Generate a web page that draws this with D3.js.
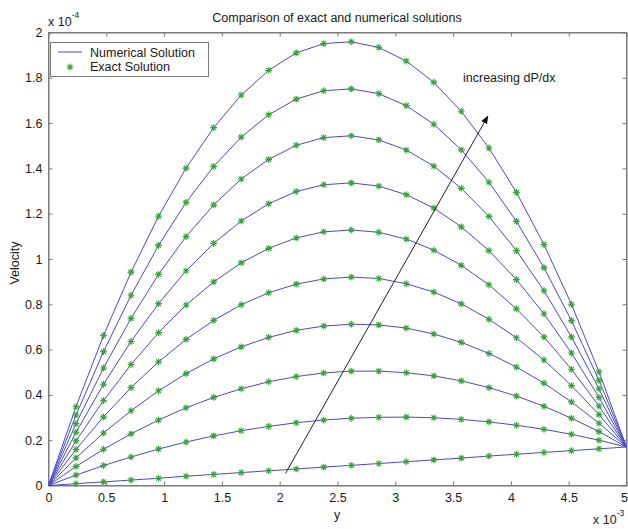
<!DOCTYPE html>
<html>
<head>
<meta charset="utf-8">
<script src="https://cdn.jsdelivr.net/npm/d3@7"></script>
<style>
  html, body { margin: 0; padding: 0; background: #fff; }
  svg { display: block; }
  text { font-family: Arial, "Liberation Sans", sans-serif; fill: #1a1a1a; }
</style>
</head>
<body>
<div id="chart"></div>
<script>
// Grid positions y (units of 1e-3)
const yPositions = [0, 0.238, 0.476, 0.714, 0.952, 1.190, 1.429, 1.667, 1.905, 2.143, 2.381,
                    2.619, 2.857, 3.095, 3.333, 3.571, 3.810, 4.048, 4.286, 4.524, 4.762, 5.0];

// Velocity profiles (units of 1e-4), one per pressure gradient
const profile0 = [0, 0.008, 0.016, 0.024, 0.032, 0.041, 0.049, 0.057, 0.065, 0.073, 0.081, 0.089, 0.097, 0.105, 0.113, 0.121, 0.130, 0.138, 0.146, 0.154, 0.162, 0.170];
const profile1 = [0, 0.046, 0.088, 0.126, 0.161, 0.192, 0.219, 0.242, 0.261, 0.277, 0.289, 0.297, 0.301, 0.302, 0.299, 0.292, 0.281, 0.266, 0.248, 0.226, 0.200, 0.170];
const profile2 = [0, 0.084, 0.160, 0.228, 0.289, 0.343, 0.389, 0.427, 0.458, 0.481, 0.497, 0.505, 0.505, 0.498, 0.484, 0.462, 0.432, 0.395, 0.350, 0.297, 0.238, 0.170];
const profile3 = [0, 0.122, 0.232, 0.330, 0.418, 0.494, 0.559, 0.612, 0.654, 0.685, 0.704, 0.712, 0.709, 0.695, 0.669, 0.632, 0.583, 0.523, 0.452, 0.369, 0.275, 0.170];
const profile4 = [0, 0.159, 0.303, 0.432, 0.546, 0.645, 0.729, 0.798, 0.851, 0.889, 0.912, 0.920, 0.914, 0.891, 0.854, 0.802, 0.734, 0.652, 0.554, 0.441, 0.313, 0.170];
const profile5 = [0, 0.197, 0.375, 0.534, 0.675, 0.797, 0.899, 0.983, 1.047, 1.093, 1.120, 1.128, 1.118, 1.088, 1.039, 0.972, 0.886, 0.780, 0.656, 0.513, 0.351, 0.170];
const profile6 = [0, 0.235, 0.447, 0.636, 0.803, 0.948, 1.069, 1.168, 1.244, 1.298, 1.328, 1.336, 1.322, 1.284, 1.225, 1.142, 1.037, 0.909, 0.758, 0.585, 0.389, 0.170];
const profile7 = [0, 0.273, 0.519, 0.738, 0.932, 1.099, 1.239, 1.353, 1.440, 1.502, 1.536, 1.544, 1.526, 1.481, 1.410, 1.312, 1.188, 1.037, 0.860, 0.656, 0.427, 0.170];
const profile8 = [0, 0.311, 0.591, 0.840, 1.060, 1.250, 1.409, 1.538, 1.637, 1.706, 1.743, 1.751, 1.730, 1.677, 1.595, 1.482, 1.339, 1.166, 0.962, 0.728, 0.464, 0.170];
const profile9 = [0, 0.348, 0.662, 0.942, 1.189, 1.401, 1.580, 1.724, 1.833, 1.910, 1.951, 1.959, 1.934, 1.874, 1.780, 1.652, 1.490, 1.294, 1.064, 0.800, 0.502, 0.170];
const profiles = [profile0, profile1, profile2, profile3, profile4, profile5, profile6, profile7, profile8, profile9];

const xTicks = [0, 0.5, 1, 1.5, 2, 2.5, 3, 3.5, 4, 4.5, 5];
const yTicks = [0, 0.2, 0.4, 0.6, 0.8, 1, 1.2, 1.4, 1.6, 1.8, 2];
const legendLabels = ["Numerical Solution", "Exact Solution"];
const arrowStart = [2.05, 0.053];
const arrowEnd = [3.80, 1.63];

(function () {
const W = 628, H = 529;
const mLeft = 48.5, mRight = 626.5, mTop = 32.5, mBottom = 485.5;
const lineColor = "#4a4acc";
const markerColor = "#35a535";
const axisColor = "#7a7a7a";

const svg = d3.select("#chart").append("svg").attr("width", W).attr("height", H);
svg.append("rect").attr("width", W).attr("height", H).attr("fill", "#fff");

const x = d3.scaleLinear().domain([0, 5]).range([mLeft, mRight]);
const y = d3.scaleLinear().domain([0, 2]).range([mBottom, mTop]);

const fs = "12.5px";
const gx = svg.append("g").attr("transform", `translate(0,${mBottom})`)
  .call(d3.axisBottom(x).tickValues(xTicks).tickSizeInner(-4).tickSizeOuter(0).tickPadding(8).tickFormat(d3.format("")));
const gxTop = svg.append("g").attr("transform", `translate(0,${mTop})`)
  .call(d3.axisTop(x).tickValues(xTicks).tickSizeInner(-4).tickSizeOuter(0).tickFormat(""));
const gy = svg.append("g").attr("transform", `translate(${mLeft},0)`)
  .call(d3.axisLeft(y).tickValues(yTicks).tickSizeInner(-4).tickSizeOuter(0).tickPadding(6).tickFormat(d3.format("")));
const gyR = svg.append("g").attr("transform", `translate(${mRight},0)`)
  .call(d3.axisRight(y).tickValues(yTicks).tickSizeInner(-4).tickSizeOuter(0).tickFormat(""));
[gx, gxTop, gy, gyR].forEach(g => {
  g.selectAll(".domain").attr("stroke", axisColor);
  g.selectAll(".tick line").attr("stroke", axisColor);
  g.selectAll(".tick text").attr("font-size", fs).attr("fill", "#1a1a1a")
    .attr("font-family", "Arial, 'Liberation Sans', sans-serif");
});
// keep last x label inside the window
gx.selectAll(".tick text").filter(d => d === 5).attr("text-anchor", "end").attr("dx", "1");
svg.append("rect").attr("x", mLeft).attr("y", mTop).attr("width", mRight - mLeft).attr("height", mBottom - mTop)
  .attr("fill", "none").attr("stroke", axisColor);

// Lines
const line = d3.line().x((d, i) => x(yPositions[i])).y(d => y(d));
const plot = svg.append("g");
profiles.forEach(p => {
  plot.append("path").datum(p).attr("d", line).attr("fill", "none")
    .attr("stroke", lineColor).attr("stroke-width", 1);
});

// Asterisk markers
const r = 3.4, dd = 2.4;
const starPath = `M${-r},0L${r},0M0,${-r}L0,${r}M${-dd},${-dd}L${dd},${dd}M${-dd},${dd}L${dd},${-dd}`;
profiles.forEach(p => {
  p.forEach((v, i) => {
    if (i === 0 || i === p.length - 1) return;
    plot.append("path").attr("d", starPath)
      .attr("transform", `translate(${x(yPositions[i])},${y(v)})`)
      .attr("fill", "none").attr("stroke", markerColor).attr("stroke-width", 1.1);
  });
});

// Arrow
const defs = svg.append("defs");
defs.append("marker").attr("id", "ah").attr("viewBox", "0 0 10 10").attr("refX", 9).attr("refY", 5)
  .attr("markerWidth", 8).attr("markerHeight", 8).attr("markerUnits", "userSpaceOnUse").attr("orient", "auto")
  .append("path").attr("d", "M0,1L10,5L0,9Z").attr("fill", "#000");
svg.append("line").attr("x1", x(arrowStart[0])).attr("y1", y(arrowStart[1]))
  .attr("x2", x(arrowEnd[0])).attr("y2", y(arrowEnd[1]))
  .attr("stroke", "#222").attr("stroke-width", 1).attr("marker-end", "url(#ah)");
svg.append("text").attr("x", 463).attr("y", 82).attr("font-size", fs).text("increasing dP/dx");

// Title and labels
svg.append("text").attr("x", 337).attr("y", 22).attr("text-anchor", "middle").attr("font-size", fs)
  .text("Comparison of exact and numerical solutions");
svg.append("text").attr("x", 337).attr("y", 519).attr("text-anchor", "middle").attr("font-size", fs).text("y");
svg.append("text").attr("transform", "translate(19,263) rotate(-90)").attr("text-anchor", "middle")
  .attr("font-size", fs).text("Velocity");

// Exponent labels
const e1 = svg.append("text").attr("x", 48).attr("y", 26).attr("font-size", fs);
e1.append("tspan").text("x 10");
e1.append("tspan").attr("dy", -8).attr("font-size", "8.5px").text("-4");
const e2 = svg.append("text").attr("x", 593).attr("y", 524).attr("font-size", fs);
e2.append("tspan").text("x 10");
e2.append("tspan").attr("dy", -8).attr("font-size", "8.5px").text("-3");

// Legend
const lg = svg.append("g");
lg.append("rect").attr("x", 50.5).attr("y", 42.5).attr("width", 158).attr("height", 34)
  .attr("fill", "#fff").attr("stroke", axisColor);
lg.append("line").attr("x1", 58).attr("x2", 82).attr("y1", 52).attr("y2", 52)
  .attr("stroke", lineColor).attr("stroke-width", 1);
lg.append("path").attr("d", starPath).attr("transform", "translate(70,67)")
  .attr("fill", "none").attr("stroke", markerColor).attr("stroke-width", 1.1);
lg.append("text").attr("x", 90).attr("y", 56.5).attr("font-size", fs).text(legendLabels[0]);
lg.append("text").attr("x", 90).attr("y", 70.5).attr("font-size", fs).text(legendLabels[1]);
})();
</script>
</body>
</html>
